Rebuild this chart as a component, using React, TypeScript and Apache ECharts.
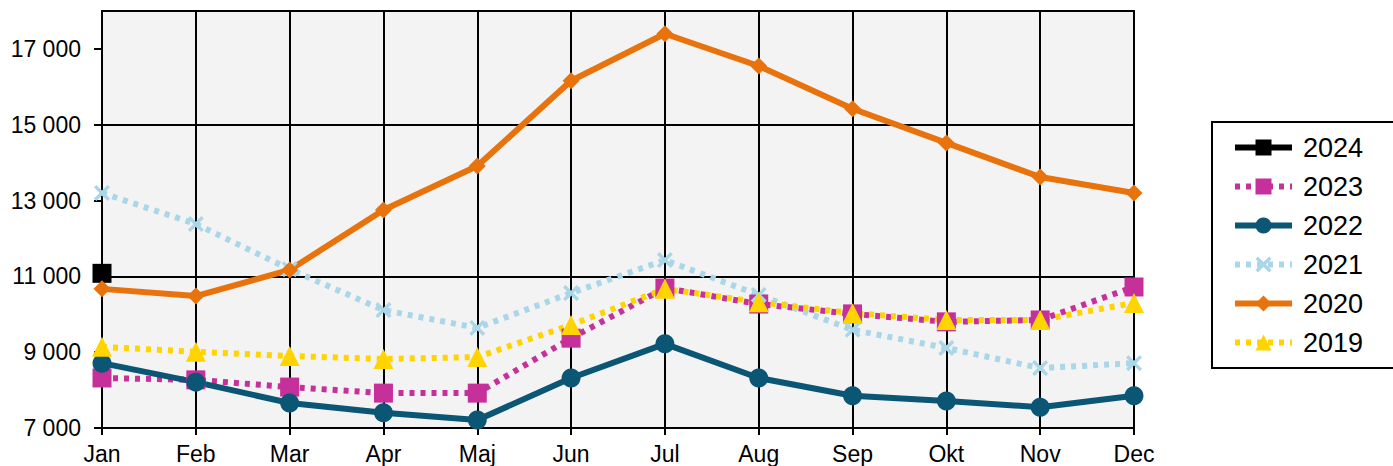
import React, { useEffect, useRef } from "react";
import * as echarts from "echarts";

const months = ["Jan", "Feb", "Mar", "Apr", "Maj", "Jun", "Jul", "Aug", "Sep", "Okt", "Nov", "Dec"];
const yTickValues = [7000, 9000, 11000, 13000, 15000, 17000];

const s2024 = [11080, null, null, null, null, null, null, null, null, null, null, null];
const s2023 = [8320, 8270, 8080, 7920, 7920, 9370, 10690, 10270, 10010, 9800, 9850, 10720];
const s2022 = [8710, 8210, 7660, 7400, 7210, 8320, 9220, 8320, 7850, 7710, 7550, 7850];
const s2021 = [13200, 12380, 11190, 10110, 9640, 10560, 11430, 10510, 9590, 9110, 8580, 8710];
const s2020 = [10670, 10480, 11170, 12750, 13910, 16160, 17400, 16550, 15420, 14520, 13620, 13200];
const s2019 = [9140, 9010, 8900, 8820, 8870, 9720, 10670, 10320, 10030, 9850, 9850, 10300];

const xPath = "path://M0,3 L3,0 L10,7 L17,0 L20,3 L13,10 L20,17 L17,20 L10,13 L3,20 L0,17 L7,10 Z";

const fmt = (v: number) => String(v).replace(/\B(?=(\d{3})+(?!\d))/g, " ");

export default function App() {
  const ref = useRef<HTMLDivElement>(null);
  useEffect(() => {
    if (!ref.current) return;
    const chart = echarts.init(ref.current, null, { renderer: "svg" });
    const font = "'Liberation Sans', Arial, sans-serif";
    const dotted = [5, 6];
    chart.setOption({
      animation: false,
      textStyle: { fontFamily: font },
      grid: {
        left: 102,
        right: 259,
        top: 11,
        bottom: 38,
        show: true,
        backgroundColor: "#f3f3f3",
        borderColor: "#000",
        borderWidth: 2,
      },
      legend: {
        orient: "vertical",
        left: 1212,
        top: 122,
        padding: [12, 60, 12, 20],
        borderColor: "#000",
        borderWidth: 2,
        itemWidth: 57,
        itemHeight: 20,
        itemGap: 12,
        lineStyle: { width: 6 },
        textStyle: { fontSize: 27, color: "#000", fontFamily: font, padding: [0, 0, 0, 6] },
        data: ["2024", "2023", "2022", "2021", "2020", "2019"],
      },
      xAxis: {
        type: "category",
        data: months,
        boundaryGap: false,
        axisLine: { lineStyle: { color: "#000", width: 2 } },
        axisTick: { show: true, length: 7, lineStyle: { color: "#000", width: 2 } },
        axisLabel: { fontSize: 23, color: "#000", margin: 14, fontFamily: font },
        splitLine: { show: true, lineStyle: { color: "#000", width: 2 } },
      },
      yAxis: {
        type: "value",
        min: 7000,
        max: 18000,
        interval: 1000,
        axisLine: { show: true, lineStyle: { color: "#000", width: 2 } },
        axisTick: { show: true, length: 8, customValues: yTickValues, lineStyle: { color: "#000", width: 2 } },
        axisLabel: {
          fontSize: 23,
          color: "#000",
          margin: 21,
          fontFamily: font,
          customValues: yTickValues,
          formatter: (v: number) => fmt(v),
        },
        splitLine: { show: true, lineStyle: { color: ["#000", "rgba(0,0,0,0)"], width: 2 } },
      },
      series: [
        {
          name: "2024",
          type: "line",
          data: s2024,
          symbol: "rect",
          symbolSize: 19,
          color: "#000",
          lineStyle: { width: 6, color: "#000" },
          itemStyle: { color: "#000" },
        },
        {
          name: "2023",
          type: "line",
          data: s2023,
          symbol: "rect",
          symbolSize: 19,
          color: "#c6309b",
          lineStyle: { width: 6, type: dotted, color: "#c6309b" },
          itemStyle: { color: "#c6309b" },
        },
        {
          name: "2022",
          type: "line",
          data: s2022,
          symbol: "circle",
          symbolSize: 19,
          color: "#0b5575",
          lineStyle: { width: 6, color: "#0b5575" },
          itemStyle: { color: "#0b5575" },
        },
        {
          name: "2021",
          type: "line",
          data: s2021,
          symbol: xPath,
          symbolSize: 16,
          color: "#a9d6e8",
          lineStyle: { width: 6, type: dotted, color: "#a9d6e8" },
          itemStyle: { color: "#a9d6e8" },
        },
        {
          name: "2020",
          type: "line",
          data: s2020,
          symbol: "diamond",
          symbolSize: 17,
          color: "#e8720c",
          lineStyle: { width: 6, color: "#e8720c" },
          itemStyle: { color: "#e8720c" },
        },
        {
          name: "2019",
          type: "line",
          data: s2019,
          symbol: "triangle",
          symbolSize: 20,
          color: "#ffd400",
          lineStyle: { width: 6, type: dotted, color: "#ffd400" },
          itemStyle: { color: "#ffd400" },
        },
      ],
    });
    return () => chart.dispose();
  }, []);
  return (
    <div
      ref={ref}
      style={{ position: "fixed", left: 0, top: 0, width: 1393, height: 466, background: "#fff" }}
    />
  );
}
